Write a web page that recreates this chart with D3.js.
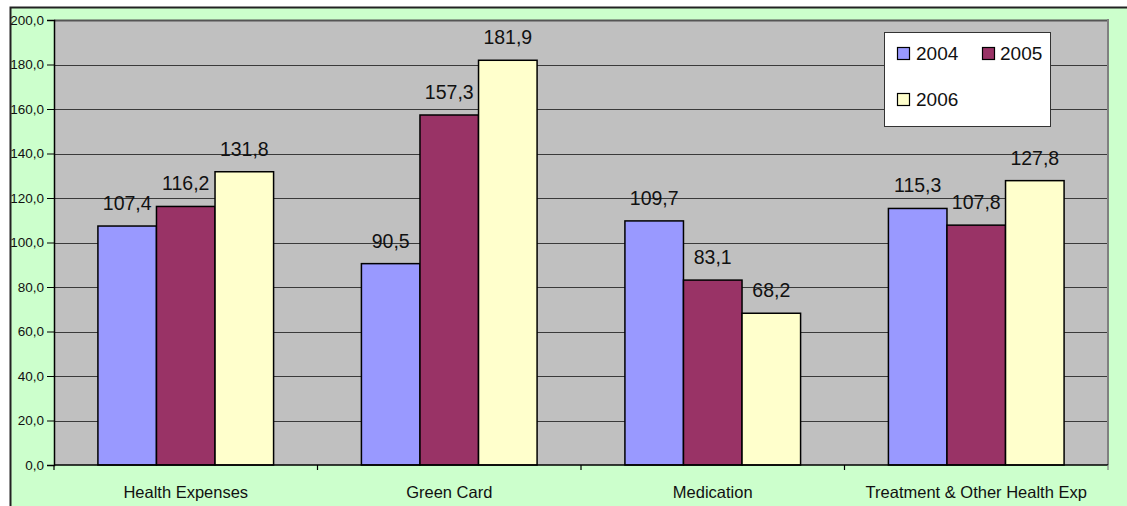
<!DOCTYPE html>
<html>
<head>
<meta charset="utf-8">
<script src="https://cdn.jsdelivr.net/npm/d3@7"></script>
<style>
  html, body { margin: 0; padding: 0; background: #ffffff; }
  svg { display: block; font-family: "Liberation Sans", Arial, sans-serif; }
</style>
</head>
<body>
<svg id="chart" width="1127" height="506"></svg>
<script>
// Health spending by category, indexed values per year
const categories = ["Health Expenses", "Green Card", "Medication", "Treatment & Other Health Exp"];
const years = ["2004", "2005", "2006"];
const values2004 = [107.4, 90.5, 109.7, 115.3];
const values2005 = [116.2, 157.3, 83.1, 107.8];
const values2006 = [131.8, 181.9, 68.2, 127.8];
const yTicks = [0, 20, 40, 60, 80, 100, 120, 140, 160, 180, 200];

const seriesValues = [values2004, values2005, values2006];
const colors = ["#9999ff", "#993366", "#ffffcc"];

const svg = d3.select("#chart");
const W = 1127, H = 506;
const plot = { left: 54, right: 1108, top: 20, bottom: 465 };

// comma as decimal separator, one decimal place
const fmt = v => d3.format(".1f")(v).replace(".", ",");

// chart background panel
svg.append("rect")
  .attr("x", 10.5).attr("y", 7.5)
  .attr("width", W + 20).attr("height", H + 20)
  .attr("fill", "#ccffcc")
  .attr("stroke", "#222").attr("stroke-width", 2);

const x0 = d3.scaleBand().domain(categories).range([plot.left, plot.right]).paddingInner(0).paddingOuter(0);
const x1 = d3.scaleBand().domain(years).range([0, x0.bandwidth()]).paddingInner(0).paddingOuter(0.75);
const y = d3.scaleLinear().domain([0, 200]).range([plot.bottom, plot.top]);

// plot area
svg.append("rect")
  .attr("x", plot.left).attr("y", plot.top)
  .attr("width", plot.right - plot.left).attr("height", plot.bottom - plot.top)
  .attr("fill", "#c0c0c0");

// horizontal gridlines
svg.append("g")
  .selectAll("line")
  .data(yTicks.filter(t => t > 0))
  .join("line")
  .attr("x1", plot.left).attr("x2", plot.right)
  .attr("y1", d => Math.round(y(d)) + 0.5).attr("y2", d => Math.round(y(d)) + 0.5)
  .attr("stroke", d => d === 200 ? "#555" : "#3a3a3a")
  .attr("stroke-width", d => d === 200 ? 2 : 1);

// right border of plot area
svg.append("line")
  .attr("x1", plot.right).attr("x2", plot.right)
  .attr("y1", plot.top - 1).attr("y2", plot.bottom)
  .attr("stroke", "#808080").attr("stroke-width", 2);

// bars
const groups = svg.append("g")
  .selectAll("g")
  .data(categories)
  .join("g")
  .attr("transform", d => `translate(${x0(d)},0)`);

groups.selectAll("rect")
  .data((c, i) => years.map((yr, s) => ({ yr, s, v: seriesValues[s][i] })))
  .join("rect")
  .attr("x", d => x1(d.yr))
  .attr("y", d => y(d.v))
  .attr("width", x1.bandwidth())
  .attr("height", d => y(0) - y(d.v))
  .attr("fill", d => colors[d.s])
  .attr("stroke", "#000")
  .attr("stroke-width", 1.5);

// value labels
groups.selectAll("text")
  .data((c, i) => years.map((yr, s) => ({ yr, s, v: seriesValues[s][i] })))
  .join("text")
  .attr("x", d => x1(d.yr) + x1.bandwidth() / 2)
  .attr("y", d => y(d.v) - 16)
  .attr("text-anchor", "middle")
  .attr("font-size", 19.5)
  .attr("fill", "#111")
  .text(d => fmt(d.v));

// y axis
const yAxis = d3.axisLeft(y).tickValues(yTicks).tickSize(7).tickPadding(3).tickFormat(fmt);
const yg = svg.append("g").attr("transform", `translate(${plot.left},0)`).call(yAxis);
yg.select(".domain").attr("stroke", "#000").attr("stroke-width", 1.5);
yg.selectAll(".tick line").attr("stroke", "#000");
yg.selectAll(".tick text").attr("font-size", 13.5).attr("fill", "#111")
  .attr("font-family", "Liberation Sans, Arial, sans-serif");

// x axis with ticks on category boundaries
svg.append("line")
  .attr("x1", plot.left).attr("x2", plot.right)
  .attr("y1", plot.bottom).attr("y2", plot.bottom)
  .attr("stroke", "#000").attr("stroke-width", 1.5);

const boundaries = categories.map(c => x0(c)).concat([x0.range()[1]]);
svg.append("g")
  .selectAll("line")
  .data(boundaries)
  .join("line")
  .attr("x1", d => d).attr("x2", d => d)
  .attr("y1", plot.bottom).attr("y2", plot.bottom + 5)
  .attr("stroke", d => d === plot.right ? "#808080" : "#000")
  .attr("stroke-width", 1.2);

svg.append("g")
  .selectAll("text")
  .data(categories)
  .join("text")
  .attr("x", d => x0(d) + x0.bandwidth() / 2)
  .attr("y", 498)
  .attr("text-anchor", "middle")
  .attr("font-size", 16.5)
  .attr("fill", "#111")
  .text(d => d);

// legend
const legend = svg.append("g");
legend.append("rect")
  .attr("x", 884.5).attr("y", 32.5)
  .attr("width", 166).attr("height", 94)
  .attr("fill", "#fff")
  .attr("stroke", "#333").attr("stroke-width", 1);

const legendPos = [
  { sx: 897, tx: 916, cy: 53 },
  { sx: 982, tx: 1000, cy: 53 },
  { sx: 897, tx: 916, cy: 99 }
];
const items = legend.selectAll("g.item")
  .data(years)
  .join("g")
  .attr("class", "item");
items.append("rect")
  .attr("x", (d, i) => legendPos[i].sx + 0.5)
  .attr("y", (d, i) => legendPos[i].cy - 6 + 0.5)
  .attr("width", 12).attr("height", 12)
  .attr("fill", (d, i) => colors[i])
  .attr("stroke", "#000").attr("stroke-width", 1.2);
items.append("text")
  .attr("x", (d, i) => legendPos[i].tx)
  .attr("y", (d, i) => legendPos[i].cy + 7)
  .attr("font-size", 19)
  .attr("fill", "#111")
  .text(d => d);
</script>
</body>
</html>
